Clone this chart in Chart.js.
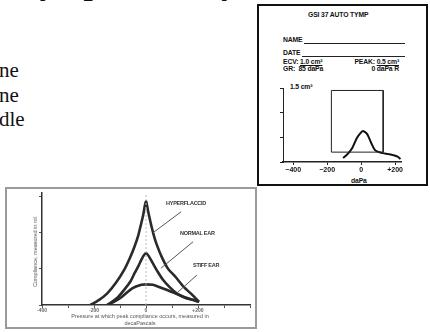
<!DOCTYPE html>
<html>
<head>
<meta charset="utf-8">
<script src="https://cdn.jsdelivr.net/npm/chart.js@4.4.1/dist/chart.umd.min.js"></script>
<style>
body { margin:0; width:430px; height:332px; overflow:hidden; position:relative; background:#fff; font-family:"Liberation Sans", Arial, sans-serif; }
.abs { position:absolute; white-space:nowrap; }
.serif { font-family:"Liberation Serif", "Times New Roman", serif; color:#111; }
.card { position:absolute; left:257px; top:4px; width:171px; height:182px; border:2px solid #111; box-sizing:border-box; }
.cardtxt { font-weight:bold; font-size:6.8px; color:#111; letter-spacing:-0.15px; }
.rule { position:absolute; height:0; border-top:1px solid #222; }
.frame { position:absolute; left:5px; top:187px; width:252px; height:142px; border:2px solid #9a9a9a; box-sizing:border-box; }
.lbl { font-weight:bold; font-size:5.5px; color:#333; letter-spacing:-0.25px; }
.axt { font-size:5.5px; color:#555; }
canvas { position:absolute; }
</style>
</head>
<body>
<!-- cut-off page heading and paragraph ends -->
<div class="abs serif" style="left:20px; top:-33px; font-size:33px; font-weight:bold; line-height:33px;">Tympanometry</div>
<div class="abs serif" style="left:-1px; top:58px; font-size:21px; line-height:24.5px;">ne<br>ne<br>dle</div>

<!-- GSI card -->
<div class="card"></div>
<div class="abs cardtxt" style="left:308px; top:11px;">GSI 37 AUTO TYMP</div>
<div class="abs cardtxt" style="left:283px; top:36px;">NAME</div>
<div class="rule" style="left:304px; top:43px; width:101px;"></div>
<div class="abs cardtxt" style="left:283px; top:49px;">DATE</div>
<div class="rule" style="left:302px; top:56px; width:103px;"></div>
<div class="abs cardtxt" style="left:283px; top:59px; line-height:6.5px;">ECV: <u>1.0 cm³</u><br>GR:&nbsp; 85 daPa</div>
<div class="abs cardtxt" style="left:346px; top:59px; line-height:6.5px; text-align:right; width:53px;">PEAK: <u>0.5 cm³</u><br>0 daPa R</div>
<div class="abs cardtxt" style="left:290px; top:83px;">1.5 cm³</div>
<div class="abs cardtxt" style="left:351px; top:177px;">daPa</div>
<canvas id="cardChart" width="150" height="98" style="left:262px; top:82px;"></canvas>

<!-- textbook figure -->
<div class="frame"></div>
<canvas id="figChart" width="248" height="138" style="left:7px; top:189px;"></canvas>
<div class="abs axt" style="left:35px; top:252px; transform:translate(-50%,-50%) rotate(-90deg);">Compliance, measured in ml</div>
<div class="abs axt" style="left:140px; top:313px; transform:translateX(-50%); text-align:center; line-height:7px;">Pressure at which peak compliance occurs, measured in<br>decaPascals</div>
<div class="abs lbl" style="left:166px; top:200px;">HYPERFLACCID</div>
<div class="abs lbl" style="left:180px; top:230px;">NORMAL EAR</div>
<div class="abs lbl" style="left:193px; top:262px;">STIFF EAR</div>

<script>
// card tympanogram (daPa vs cm3)
var cardPressure = [-106, -80, -53, -24, 0, 12, 35, 59, 82, 105, 129, 160, 188, 215, 232];
var cardCompliance = [0.08, 0.16, 0.28, 0.49, 0.6, 0.63, 0.57, 0.39, 0.24, 0.2, 0.18, 0.16, 0.14, 0.11, 0.06];
var boxPressure = [-175, -175, 130, 130, -175]; // normal range box
var boxCompliance = [0.2, 1.45, 1.45, 0.2, 0.2];
var cardTicks = [-400, -200, 0, 200];
var cardTickLabels = ['\u2212400', '\u2212200', '0', '+200'];
var cardYTicks = [0, 0.5, 1.0, 1.5];

// textbook figure, three ears
var hyperPressure = [-214, -180, -149, -115, -84, -62, -44, -30, -18, -10, -5, 0, 4, 8, 14, 21, 30, 40, 60, 85, 112, 145, 178, 204];
var hyperCompliance = [0, 0.14, 0.32, 0.62, 0.97, 1.3, 1.62, 1.92, 2.27, 2.52, 2.73, 2.87, 2.75, 2.6, 2.4, 2.18, 1.93, 1.7, 1.34, 1.0, 0.79, 0.5, 0.28, 0.09];
var normalPressure = [-149, -110, -84, -60, -44, -30, -18, -8, 0, 10, 26, 45, 66, 90, 118, 150, 183, 204];
var normalCompliance = [0, 0.2, 0.42, 0.65, 0.88, 1.07, 1.25, 1.38, 1.44, 1.36, 1.16, 0.92, 0.69, 0.5, 0.32, 0.2, 0.14, 0.09];
var stiffPressure = [-149, -120, -92, -53, -18, 0, 26, 50, 79, 110, 144, 175, 204];
var stiffCompliance = [0, 0.1, 0.23, 0.46, 0.56, 0.57, 0.56, 0.5, 0.42, 0.33, 0.23, 0.15, 0.09];
var leaderPressure = [[135, 27], [181, 58], [196, 123]];
var leaderCompliance = [[2.58, 2.0], [1.75, 1.02], [0.83, 0.36]];
var figTicks = [-400, -300, -200, -100, 0, 100, 200, 300, 400];
var figTickLabels = ['-400', '', '-200', '', '0', '', '+200', '', ''];
var figYTicks = [0, 1, 2, 3];

function toPoints(xs, ys) {
  var pts = [];
  for (var i = 0; i < xs.length; i++) {
    pts.push({x: xs[i], y: ys[i]});
  }
  return pts;
}

function lineSet(xs, ys, color, width, extra) {
  var ds = {data: toPoints(xs, ys), borderColor: color, borderWidth: width, pointRadius: 0, fill: false, tension: 0.25};
  for (var k in extra) { ds[k] = extra[k]; }
  return ds;
}

Chart.defaults.font.family = '"Liberation Sans", Arial, sans-serif';

var cardChart = new Chart(document.getElementById('cardChart'), {
  type: 'line',
  data: {
    datasets: [
      lineSet(boxPressure, boxCompliance, '#222', 1, {tension: 0}),
      lineSet(cardPressure, cardCompliance, '#111', 2, {tension: 0.3})
    ]
  },
  options: {
    responsive: false, animation: false, devicePixelRatio: 1,
    layout: {padding: {top: 6, right: 11, left: 0, bottom: 0}},
    plugins: {legend: {display: false}, tooltip: {enabled: false}},
    scales: {
      x: {
        type: 'linear', min: -460, max: 235,
        afterFit: function(s) { s.height = 18; },
        afterBuildTicks: function(s) { s.ticks = cardTicks.map(function(v) { return {value: v}; }); },
        grid: {drawOnChartArea: false, tickLength: 3, color: '#222'},
        border: {color: '#222', width: 1.5},
        ticks: {color: '#111', padding: 1, font: {size: 7, weight: 'bold'}, maxRotation: 0,
          callback: function(v) { return cardTickLabels[cardTicks.indexOf(v)]; }}
      },
      y: {
        min: 0, max: 1.5,
        afterFit: function(s) { s.width = 21; },
        afterBuildTicks: function(s) { s.ticks = cardYTicks.map(function(v) { return {value: v}; }); },
        grid: {drawOnChartArea: false, tickLength: 3, color: '#222'},
        border: {color: '#222', width: 1},
        ticks: {display: false}
      }
    }
  }
});

var figChart = new Chart(document.getElementById('figChart'), {
  type: 'line',
  data: {
    datasets: [
      lineSet([0, 0], [0, 3.1], '#bbb', 1, {borderDash: [2, 2], tension: 0}),
      lineSet(leaderPressure[0], leaderCompliance[0], '#555', 1, {tension: 0}),
      lineSet(leaderPressure[1], leaderCompliance[1], '#555', 1, {tension: 0}),
      lineSet(leaderPressure[2], leaderCompliance[2], '#555', 1, {tension: 0}),
      lineSet(hyperPressure, hyperCompliance, '#2a2a2a', 2.6),
      lineSet(normalPressure, normalCompliance, '#2a2a2a', 2.6),
      lineSet(stiffPressure, stiffCompliance, '#2a2a2a', 2.6)
    ]
  },
  options: {
    responsive: false, animation: false, devicePixelRatio: 1,
    layout: {padding: {top: 4, right: 5, left: 0, bottom: 0}},
    plugins: {legend: {display: false}, tooltip: {enabled: false}},
    scales: {
      x: {
        type: 'linear', min: -400, max: 400,
        afterFit: function(s) { s.height = 22; },
        afterBuildTicks: function(s) { s.ticks = figTicks.map(function(v) { return {value: v}; }); },
        grid: {drawOnChartArea: false, tickLength: 3, color: '#555'},
        border: {color: '#333', width: 1.5},
        ticks: {color: '#666', padding: 0, font: {size: 5, weight: 'bold'}, maxRotation: 0, autoSkip: false,
          callback: function(v) { return figTickLabels[figTicks.indexOf(v)]; }}
      },
      y: {
        min: 0, max: 3.1,
        afterFit: function(s) { s.width = 35; },
        afterBuildTicks: function(s) { s.ticks = figYTicks.map(function(v) { return {value: v}; }); },
        grid: {drawOnChartArea: false, tickLength: 3, color: '#555'},
        border: {color: '#333', width: 1.5},
        ticks: {display: false}
      }
    }
  }
});
</script>
</body>
</html>
